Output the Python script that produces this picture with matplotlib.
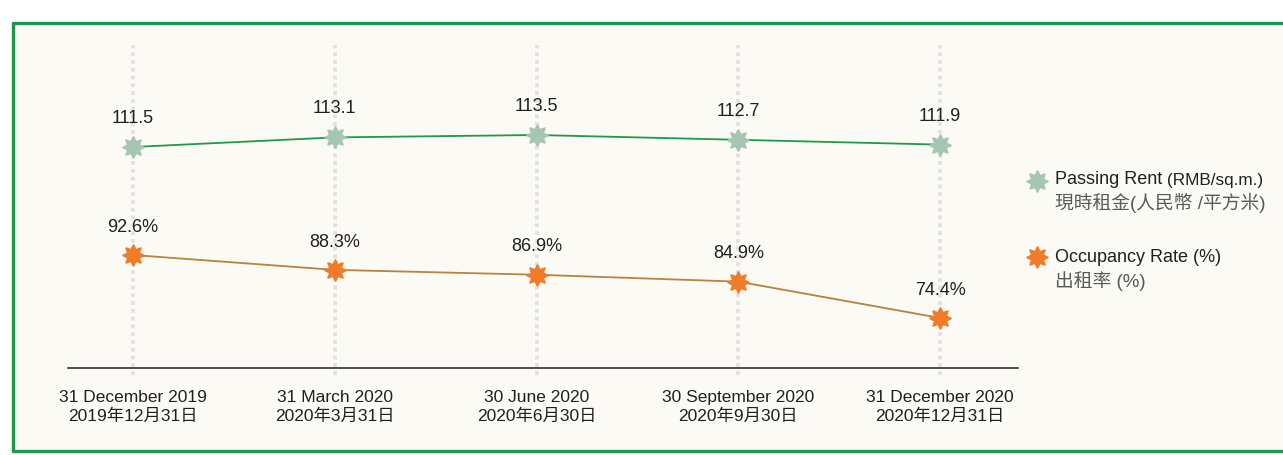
import numpy as np
import matplotlib
matplotlib.use("Agg")
import matplotlib.pyplot as plt
from matplotlib.path import Path

# ---------------- data ----------------
dates_en = ["31 December 2019", "31 March 2020", "30 June 2020",
            "30 September 2020", "31 December 2020"]
dates_zh = ["2019年12月31日", "2020年3月31日", "2020年6月30日",
            "2020年9月30日", "2020年12月31日"]
passing_rent = [111.5, 113.1, 113.5, 112.7, 111.9]
occupancy = [92.6, 88.3, 86.9, 84.9, 74.4]

FONTS = ["Liberation Sans", "Noto Sans CJK TC", "DejaVu Sans"]
plt.rcParams["font.family"] = FONTS

TEXT = "#231f20"
GRAY = "#58595b"
CREAM = "#fbfaf5"
FRAME = "#1a9a48"
RENT_LINE = "#1e9a4a"
RENT_MK = "#a5c6b2"
OCC_LINE = "#b8823f"
OCC_MK = "#f07c2a"

# 8-point star marker
n = 8
ang = np.linspace(0, 2 * np.pi, 2 * n, endpoint=False) + np.pi / 2
rad = np.where(np.arange(2 * n) % 2 == 0, 1.0, 0.58)
verts = np.column_stack([rad * np.cos(ang), rad * np.sin(ang)])
verts = np.vstack([verts, verts[:1]])
star = Path(verts, closed=True)

W, H = 1283, 455
fig = plt.figure(figsize=(W / 100, H / 100), dpi=100)
fig.patch.set_facecolor("white")

# overlay for frame (pixel coordinates)
bg = fig.add_axes([0, 0, 1, 1])
bg.set_xlim(0, W)
bg.set_ylim(H, 0)
bg.axis("off")
bg.add_patch(plt.Rectangle((13, 23), W - 13, 428, facecolor=CREAM, edgecolor="none", zorder=0))
bg.plot([12, W], [23, 23], color=FRAME, lw=2.4, solid_capstyle="butt")
bg.plot([12, W], [451, 451], color=FRAME, lw=2.4, solid_capstyle="butt")
bg.plot([13, 13], [22, 452], color=FRAME, lw=2.4, solid_capstyle="butt")

# main axes
left, right = 68 / W, 1018 / W
bottom, top = (H - 368) / H, (H - 40) / H
ax = fig.add_axes([left, bottom, right - left, top - bottom])
ax.set_facecolor("none")
x = np.arange(len(dates_en))
ax.set_xlim(-(133 - 68) / 202, 4 + (1018 - 940) / 202)
ax.set_ylim(111.5 - (368 - 147) / 6, 111.5 + (147 - 40) / 6)
for s in ["top", "right", "left"]:
    ax.spines[s].set_visible(False)
ax.spines["bottom"].set_color(TEXT)
ax.spines["bottom"].set_linewidth(1.1)
ax.set_yticks([])
ax.set_xticks(x)
ax.set_xticklabels([f"{e}\n{z}" for e, z in zip(dates_en, dates_zh)],
                   fontsize=12.5, color=TEXT, linespacing=1.25)
ax.tick_params(axis="x", length=0, pad=16)

# vertical dotted guides
ax.vlines(x, -0.02, 0.985, transform=ax.get_xaxis_transform(),
          colors="#e2e2e0", linestyles=(0, (1, 1.0)), lw=2.8, zorder=1, clip_on=False)

mk = dict(marker=star, markersize=15, markeredgewidth=1.3)

# rent series
ax.plot(x, passing_rent, color=RENT_LINE, lw=1.3, zorder=3,
        markerfacecolor=RENT_MK, markeredgecolor=RENT_MK, **mk)
for xi, v in zip(x, passing_rent):
    ax.annotate(f"{v:.1f}", (xi, v), xytext=(0, 20.5), textcoords="offset points",
                ha="center", va="center", fontsize=13, color=TEXT)

# occupancy series on twin scale
ax2 = ax.twinx()
ax2.set_position(ax.get_position())
ax2.set_ylim(92.6 - (368 - 255) / 3.46, 92.6 + (255 - 40) / 3.46)
ax2.axis("off")
ax2.plot(x, occupancy, color=OCC_LINE, lw=1.3, zorder=3,
         markerfacecolor=OCC_MK, markeredgecolor=OCC_MK, **mk)
for xi, v in zip(x, occupancy):
    ax2.annotate(f"{v:.1f}%", (xi, v), xytext=(0, 20), textcoords="offset points",
                 ha="center", va="center", fontsize=13, color=TEXT)

# legend (manual)
bg.plot([1037], [181], color=RENT_MK, markeredgecolor=RENT_MK, **mk)
bg.plot([1037], [257], color=OCC_MK, markeredgecolor=OCC_MK, **mk)
bg.text(1055, 180, "Passing Rent", fontsize=13, color=TEXT, va="center", ha="left")
bg.text(1167, 180, "(RMB/sq.m.)", fontsize=12.3, color=TEXT, va="center", ha="left")
bg.text(1055, 203, "現時租金(人民幣 /平方米)", fontsize=13.5, color=GRAY, va="center", ha="left")
bg.text(1055, 257, "Occupancy Rate (%)", fontsize=13, color=TEXT, va="center", ha="left")
bg.text(1055, 281, "出租率 (%)", fontsize=13.5, color=GRAY, va="center", ha="left")

fig.savefig("out.png", dpi=100, facecolor="white")
